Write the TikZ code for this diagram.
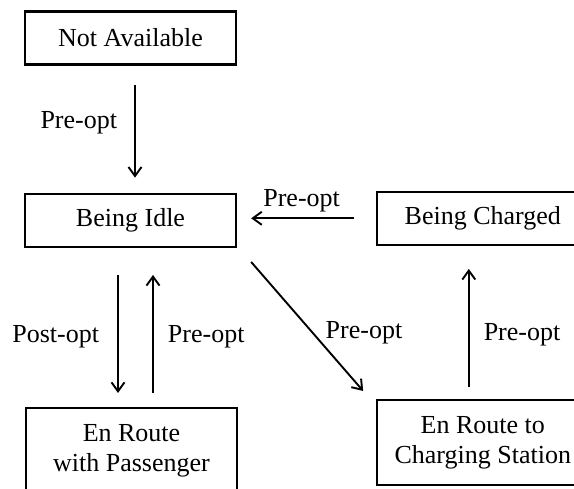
\documentclass[tikz,border=0pt]{standalone}
\usepackage{fontspec}
\setmainfont{Liberation Serif}
\usetikzlibrary{arrows.meta,positioning}

\begin{document}
\begin{tikzpicture}[x=1pt, y=-1pt, font=\fontsize{26}{30}\selectfont,
  state/.style={draw, line width=2.3pt, minimum width=211pt, minimum height=53pt, inner sep=2pt, align=center},
  tall/.style={state, minimum height=85pt},
  arr/.style={-{Straight Barb[length=9pt, width=13pt]}, line width=1.9pt},
  lbl/.style={inner sep=0pt}]
\clip (0,0) rectangle (574,489);
\node[state] (na) at (130.5,38) {Not Available};
\node[state, below=127pt of na] (idle) {Being Idle};
\node[state, right=139pt of idle, yshift=2pt] (chg) {Being Charged};
\node[tall, below=153pt of chg] (st) {En Route to\\Charging Station};
\node[tall, below=159pt of idle, xshift=1pt] (pass) {En Route\\with Passenger};
\draw[arr, shorten <=19pt, shorten >=15pt] ([xshift=4.5pt]na.south) -- ([xshift=4.5pt]idle.north)
  node[lbl, midway, left=17pt, yshift=6pt] {Pre-opt};
\draw[arr, shorten <=22pt, shorten >=14pt] (chg.west) -- (idle.east |- chg.west)
  node[lbl, midway, above=3pt, xshift=-5pt, yshift=2pt] {Pre-opt};
\draw[arr, shorten <=27pt, shorten >=14pt] ([xshift=-12.5pt]idle.south) -- ([xshift=-13.5pt]pass.north)
  node[lbl, midway, left=18pt, yshift=-9pt] {Post-opt};
\draw[arr, shorten <=14pt, shorten >=27pt] ([xshift=21.5pt]pass.north) -- ([xshift=22.5pt]idle.south)
  node[lbl, midway, right=14pt, yshift=-9pt] {Pre-opt};
\draw[arr] ([xshift=14pt, yshift=-14pt]idle.south east) -- ([xshift=-13pt, yshift=8pt]st.north west)
  node[lbl, pos=0.55, anchor=west, xshift=12pt] {Pre-opt};
\draw[arr, shorten <=12pt, shorten >=23pt] ([xshift=-14pt]st.north) -- ([xshift=-14pt]chg.south)
  node[lbl, midway, right=14pt, yshift=-12pt] {Pre-opt};
\end{tikzpicture}
\end{document}
